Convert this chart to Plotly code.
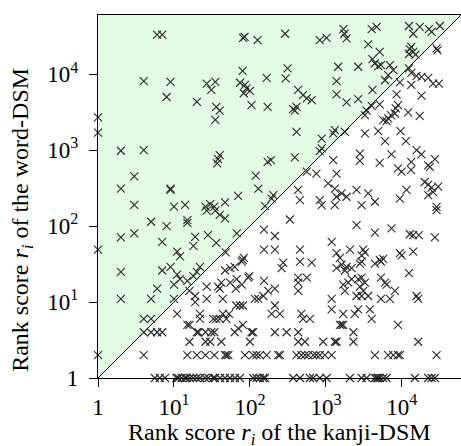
import math
import plotly.graph_objects as go

# Rank scores (x = kanji-DSM rank, y = word-DSM rank)
kanji_rank = [
    6, 7, 81, 85, 126, 4, 9, 8, 20, 27, 35, 31, 36, 40, 35, 80, 74, 86, 90, 100, 83, 105, 166, 171,
    2, 4, 40, 38, 37, 3, 119, 2, 9, 9, 129, 171, 70, 3, 10, 14, 26, 30, 34, 47, 158,
    27, 35, 40, 47, 5, 8, 15, 15, 2, 3, 7, 19, 28, 36, 18, 67, 153, 11, 12, 48, 153,
    2, 7, 9, 11, 12, 15, 22, 20, 18, 47, 55, 63, 80, 83, 78, 95, 98, 153, 6, 10, 2, 5, 10,
    16, 19, 19, 27, 38, 40, 42, 27, 55, 67, 78, 65, 44, 74, 81, 66, 116, 129, 150,
    4, 5, 11, 22, 22, 33, 36, 40, 49, 53, 44, 4, 5, 7, 6, 15, 16, 20, 21, 26, 31, 34, 63, 70,
    81, 105, 110, 16, 26, 30, 42, 100,
    290, 830, 1020, 1700, 1750, 1870, 4000, 4650, 12400, 14100, 17200, 22700, 24600, 31600,
    3600, 5100, 12700, 14100, 15100, 12400, 13300, 28600, 29400, 4100, 4400, 4900, 5300, 6950,
    7700, 6600, 6000, 313, 295, 1450, 1380, 2660, 12400, 13300, 15600, 18100, 22200, 25800,
    30700, 13300, 18100, 9400, 430, 500, 650, 560, 1380, 1870, 2660, 4100, 370, 410, 390,
    3430, 4000, 5100, 3260, 8500, 8900, 8300, 12100, 17200, 5670, 6600, 7180, 8100, 6280,
    410, 1310, 1250, 1780, 880, 3260, 4880, 6000, 9600, 11300, 880, 830, 189, 390, 2800,
    2800, 5100, 7300, 8900, 9900, 15600, 18100, 13300, 22200, 27200, 23400, 560, 750, 1380,
    1250, 13200, 20000, 22200, 24600, 25800, 22200, 30000, 430, 455, 1070, 1310, 1380, 1610,
    1870, 2530, 3600, 4420, 2950, 9400, 11500, 830, 880, 1310, 203, 193, 28600,
    28600, 336, 2530, 4420, 7300, 12700, 14100, 16700, 27200, 213, 1190, 213, 455, 1380,
    1530, 2070, 3100, 2950, 3260, 1380, 1610, 1870, 2180, 1780, 2800, 2950, 4420, 5100,
    5300, 5670, 9400, 9900, 14100, 274, 261, 455, 650, 12400, 432, 560, 432, 432, 213, 174,
    1780, 1970, 2180, 1690, 2660, 2950, 3260, 2800, 3100, 3600, 2950, 2530, 5300, 6000,
    6300, 8100, 5300, 6950, 15600, 16400, 1190, 1190, 1690, 2400, 2660, 3790, 4000, 213,
    193, 248, 475, 500, 616, 1530, 1610, 1690, 8900, 213, 304, 432, 432, 530, 920, 1310,
    1380, 2300, 2300, 16400,
]
word_rank = [
    33000, 33000, 30000, 31000, 28000, 8100, 7900, 5000, 4300, 7500, 7900, 6200, 3700, 3300, 2500,
    11000, 7700, 7200, 6500, 6000, 5600, 3900, 8900, 3700,
    980, 1000, 860, 760, 670, 450, 460, 310, 300, 310, 310, 700, 250, 190, 180, 190, 180, 195, 180,
    205, 183,
    160, 160, 140, 126, 114, 100, 120, 110, 71, 80, 62, 72, 76, 60, 55, 80, 90, 46, 40, 45, 49,
    25, 26, 29, 23, 20, 19, 29, 25, 22, 26, 28, 29, 36, 38, 34, 21, 22, 19, 15, 17, 11, 11, 11,
    14, 12, 10, 16, 16, 15, 18, 11, 18, 20, 17, 15, 11, 9, 9, 9, 11, 11, 12,
    6, 6, 7, 7, 6, 6, 6, 6, 6, 7, 7, 4, 4, 4, 4, 5, 5, 4, 4, 4, 4, 4, 4, 4.5,
    5, 4, 4, 3, 3, 3, 3, 3,
    34000, 28000, 30000, 39000, 34000, 29500, 39000, 42000, 43000, 34000, 42000, 39000, 36000, 43000,
    24600, 19600, 21300, 19600, 18100, 18400, 22900, 21800, 20500, 15800, 13800, 12700, 13100, 13100,
    11300, 9700, 8300, 11900, 8800, 12500, 8100, 12500, 11900, 10400, 9500, 9200, 8900, 7500,
    7500, 7200, 5200, 7800, 6200, 5300, 4550, 4800, 5400, 4240, 4700, 6200, 3460, 3700, 3300,
    3300, 3830, 4000, 2890, 5400, 3900, 3530, 3130, 2830, 2480, 2610, 2890, 3030, 2400,
    1740, 1830, 1660, 1740, 1420, 1660, 1780, 1310, 1780, 1310, 1050, 970, 740, 800, 900,
    720, 680, 880, 575, 520, 1000, 880, 700, 630, 760, 600, 520, 490, 490,
    740, 550, 380, 350, 320, 280, 256, 330, 300, 220, 364, 310, 243, 270,
    243, 300, 270, 209, 189, 230, 300, 220, 189, 189, 256, 230, 179,
    162, 122, 103, 82, 93, 78, 76, 76, 71, 74, 62, 49, 49, 44,
    38, 49, 49, 41, 45, 28, 31, 29, 28, 26, 32, 34, 32, 36,
    34, 37, 44, 41, 46, 33, 28, 34, 33, 24, 21, 21, 18, 14, 15, 14,
    14, 18, 20, 17, 20, 21, 18, 16, 14, 12, 12, 12, 21, 18,
    17, 14, 11, 11, 12, 11, 11, 8, 7, 7, 8, 8, 6, 9,
    7, 7, 7, 6, 6, 5, 5, 5, 5, 4, 4, 4, 3, 3, 3, 3,
    3, 4, 3, 3,
]
# points on the rank-2 row of the word-DSM
rank2_kanji = [4, 15, 20, 26, 34, 47, 49, 52, 86, 110, 122, 135,
               166, 236, 248, 410, 475, 530, 584, 680, 750, 834, 970, 1190, 4420, 6600, 7700, 8900,
               9400, 28600]
# points on the rank-1 row of the word-DSM
rank1_kanji = [5.6, 6.5, 7.6, 10.8, 11.4, 12.6, 14, 14.7, 16.2, 17.9, 19.9, 22, 25.6, 28.3, 33,
               34.6, 40.3, 47, 54.6, 63.5, 73.8, 110, 122, 135, 150, 158,
               371, 455, 616, 680, 834, 1020, 2070, 2950, 3430, 4420, 4650, 4880, 5100, 5670,
               6280, 14800, 22200, 24600, 27200]
# points with kanji-DSM rank 1
rank1_word = [2700, 1700, 49, 2]

tick_vals = [1, 10, 100, 1000, 10000]
tick_text = ["1", "10<sup>1</sup>", "10<sup>2</sup>", "10<sup>3</sup>", "10<sup>4</sup>"]
axis_max = 60000
x_title = "Rank score <i>r</i><sub><i>i</i></sub> of the kanji-DSM"
y_title = "Rank score <i>r</i><sub><i>i</i></sub> of the word-DSM"

x = kanji_rank + rank2_kanji + rank1_kanji + [1] * len(rank1_word)
y = word_rank + [2] * len(rank2_kanji) + [1] * len(rank1_kanji) + rank1_word

FONT = "Liberation Serif"

fig = go.Figure()
fig.add_trace(go.Scatter(
    x=[1, 1, axis_max, 1], y=[1, axis_max, axis_max, 1], mode="lines",
    fill="toself", fillcolor="#e4fbe4", line=dict(width=0), hoverinfo="skip",
))
fig.add_trace(go.Scatter(
    x=[1, axis_max], y=[1, axis_max], mode="lines",
    line=dict(color="black", width=1), hoverinfo="skip",
))
fig.add_trace(go.Scatter(
    x=x, y=y, mode="markers", cliponaxis=False,
    marker=dict(symbol="x-thin", size=8, line=dict(width=1.1, color="#2a2a2a")),
))

axis_common = dict(
    type="log", range=[0, math.log10(axis_max)], automargin=False,
    tickvals=tick_vals, ticktext=tick_text,
    ticks="outside", ticklen=8, tickwidth=1, tickcolor="black",
    showline=True, linecolor="black", linewidth=1.2, mirror=True,
    showgrid=False, zeroline=False,
    tickfont=dict(family=FONT, size=23, color="black"),
)

fig.update_layout(
    width=461, height=446,
    margin=dict(l=98, r=0, t=15, b=68),
    paper_bgcolor="white", plot_bgcolor="white",
    showlegend=False,
    font=dict(family=FONT, size=23, color="black"),
    xaxis=dict(axis_common, ticklabelstandoff=0),
    yaxis=dict(axis_common, ticklabelstandoff=6),
    annotations=[
        dict(text=x_title, xref="paper", yref="paper", x=0.5, y=-0.154,
             xanchor="center", yanchor="middle", showarrow=False,
             font=dict(family=FONT, size=24, color="black")),
        dict(text=y_title, xref="paper", yref="paper", x=-0.21, y=0.435,
             xanchor="center", yanchor="middle", textangle=-90, showarrow=False,
             font=dict(family=FONT, size=24, color="black")),
    ],
)

fig.write_html("out.html", config={"displayModeBar": False},
               post_script="document.body.style.margin='0';")
